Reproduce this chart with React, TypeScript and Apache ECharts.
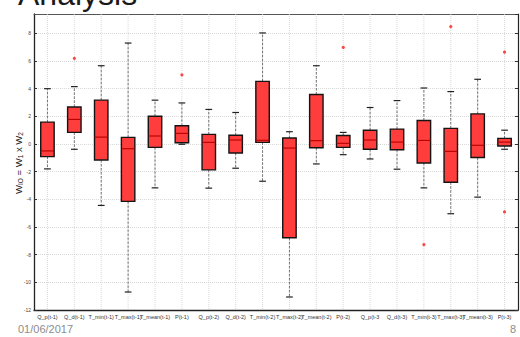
import React, { useEffect, useRef } from "react";
import * as echarts from "echarts";

const categories = [
  "Q_p(t-1)", "Q_d(t-1)", "T_min(t-1)", "T_max(t-1)", "T_mean(t-1)", "P(t-1)",
  "Q_p(t-2)", "Q_d(t-2)", "T_min(t-2)", "T_max(t-2)", "T_mean(t-2)", "P(t-2)",
  "Q_p(t-3", "Q_d(t-3)", "T_min(t-3)", "T_max(t-3)", "T_mean(t-3)", "P(t-3)",
];
// [lower whisker, q1, median, q3, upper whisker]
const whiskerLow = [-1.8, -0.38, -4.44, -10.7, -3.17, -0.02, -3.19, -1.75, -2.69, -11.06, -1.44, -0.77, -1.08, -1.82, -3.17, -5.04, -3.84, -0.38];
const q1 = [-0.91, 0.84, -1.15, -4.15, -0.24, 0.09, -1.87, -0.65, 0.12, -6.78, -0.27, -0.24, -0.38, -0.41, -1.37, -2.76, -0.98, -0.14];
const median = [-0.5, 1.78, 0.5, -0.34, 0.58, 0.77, 0.12, 0.29, 0.27, -0.29, 0.24, 0.05, 0.29, 0.14, 0.26, -0.53, -0.09, 0.14];
const q3 = [1.58, 2.68, 3.17, 0.48, 2.01, 1.32, 0.7, 0.63, 4.53, 0.43, 3.58, 0.62, 1.0, 1.08, 1.7, 1.13, 2.18, 0.41];
const whiskerHigh = [4.0, 4.15, 5.66, 7.3, 3.17, 2.97, 2.5, 2.28, 8.03, 0.89, 5.66, 0.84, 2.64, 3.14, 4.05, 3.79, 4.68, 1.0];
// outliers: [category index, value]
const outliers = [
  [1, 6.2], [5, 5.0], [11, 6.98], [14, -7.27], [15, 8.49], [17, 6.64], [17, -4.91],
];
const yMin = -12;
const yMax = 9.4;

export default function App() {
  const ref = useRef<HTMLDivElement>(null);
  useEffect(() => {
    if (!ref.current) return;
    const chart = echarts.init(ref.current, null, { renderer: "svg" });
    const boxData = categories.map((_, i) => [i, whiskerLow[i], q1[i], median[i], q3[i], whiskerHigh[i]]);
    const gridData = categories.map((_, i) => [i, 0]);
    const font = "Liberation Sans";
    chart.setOption({
      animation: false,
      backgroundColor: "#fff",
      grid: { left: 34, right: 2, top: 14, bottom: 27 },
      xAxis: [
        {
          type: "category",
          data: categories,
          boundaryGap: true,
          axisLine: { onZero: false, lineStyle: { color: "#222", width: 1.3 } },
          axisTick: { inside: true, alignWithLabel: true, length: 3, lineStyle: { color: "#333" } },
          axisLabel: { interval: 0, fontSize: 5.5, color: "#333", margin: 4, fontFamily: font },
          splitLine: { show: false },
        },
        {
          type: "category",
          data: categories,
          position: "top",
          boundaryGap: true,
          axisLine: { onZero: false, lineStyle: { color: "#555", width: 1 } },
          axisTick: { inside: true, alignWithLabel: true, length: 3, lineStyle: { color: "#555" } },
          axisLabel: { show: false },
          splitLine: { show: false },
        },
      ],
      yAxis: [
        {
          type: "value",
          min: yMin,
          max: yMax,
          interval: 2,
          axisLine: { show: true, onZero: false, lineStyle: { color: "#222", width: 1.3 } },
          axisTick: { show: true, inside: true, length: 3, lineStyle: { color: "#333" } },
          axisLabel: { fontSize: 5, color: "#444", margin: 3, showMaxLabel: false, fontFamily: font },
          splitLine: { show: true, lineStyle: { color: "#cfcfcf", width: 0.8, type: [1, 1] } },
        },
        {
          type: "value",
          min: yMin,
          max: yMax,
          interval: 2,
          position: "right",
          axisLine: { show: true, onZero: false, lineStyle: { color: "#222", width: 1.2 } },
          axisTick: { show: true, inside: true, length: 3, lineStyle: { color: "#333" } },
          axisLabel: { show: false },
          splitLine: { show: false },
        },
      ],
      series: [
        {
          type: "custom",
          z: 1,
          data: gridData,
          encode: { x: 0, y: 1 },
          renderItem: (params: any, api: any) => {
            const x = api.value(0);
            const p1 = api.coord([x, yMax]);
            const p2 = api.coord([x, yMin]);
            return {
              type: "line",
              shape: { x1: p1[0], y1: p1[1], x2: p2[0], y2: p2[1] },
              style: { stroke: "#cfcfcf", lineWidth: 0.8, lineDash: [1, 1] },
            };
          },
        },
        {
          type: "custom",
          z: 3,
          data: boxData,
          encode: { x: 0, y: [1, 2, 3, 4, 5] },
          renderItem: (params: any, api: any) => {
            const i = api.value(0);
            const band = api.size([1, 0])[0];
            const bw = band * 0.5;
            const cw = bw * 0.5;
            const pLo = api.coord([i, api.value(1)]);
            const pQ1 = api.coord([i, api.value(2)]);
            const pMed = api.coord([i, api.value(3)]);
            const pQ3 = api.coord([i, api.value(4)]);
            const pHi = api.coord([i, api.value(5)]);
            const cx = pMed[0];
            const dash = { stroke: "#555", lineWidth: 0.8, lineDash: [2.5, 1.5] };
            const cap = { stroke: "#222", lineWidth: 1.2 };
            return {
              type: "group",
              children: [
                { type: "line", shape: { x1: cx, y1: pQ3[1], x2: cx, y2: pHi[1] }, style: dash },
                { type: "line", shape: { x1: cx, y1: pQ1[1], x2: cx, y2: pLo[1] }, style: dash },
                { type: "line", shape: { x1: cx - cw / 2, y1: pHi[1], x2: cx + cw / 2, y2: pHi[1] }, style: cap },
                { type: "line", shape: { x1: cx - cw / 2, y1: pLo[1], x2: cx + cw / 2, y2: pLo[1] }, style: cap },
                {
                  type: "rect",
                  shape: { x: cx - bw / 2, y: pQ3[1], width: bw, height: pQ1[1] - pQ3[1] },
                  style: { fill: "#ff3d3d", stroke: "#141414", lineWidth: 1.4 },
                },
                {
                  type: "line",
                  shape: { x1: cx - bw / 2, y1: pMed[1], x2: cx + bw / 2, y2: pMed[1] },
                  style: { stroke: "#b30000", lineWidth: 1.1 },
                },
              ],
            };
          },
        },
        {
          type: "scatter",
          z: 4,
          data: outliers,
          symbol: "circle",
          symbolSize: 3.2,
          itemStyle: { color: "#ff1a1a" },
        },
      ],
      graphic: [
        {
          type: "text",
          left: 18,
          top: -22,
          style: { text: "Analysis", fontSize: 32, fontFamily: font, fill: "#1a1a1a" },
        },
        {
          type: "text",
          x: 18,
          y: 163,
          rotation: Math.PI / 2,
          style: {
            text: "W{sub|IO} = W{sub|1} x W{sub|2}",
            fontSize: 9.5,
            fontFamily: font,
            fill: "#222",
            align: "center",
            verticalAlign: "middle",
            rich: { sub: { fontSize: 6.5, fontFamily: font, fill: "#222", padding: [5, 0, 0, 0] } },
          },
        },
        {
          type: "text",
          left: 18,
          top: 323,
          style: { text: "01/06/2017", fontSize: 11, fontFamily: font, fill: "#8c8c8c" },
        },
        {
          type: "text",
          right: 4,
          top: 323,
          style: { text: "8", fontSize: 11, fontFamily: font, fill: "#8c8c8c" },
        },
      ],
    });
    return () => chart.dispose();
  }, []);
  return (
    <div
      ref={ref}
      style={{ position: "fixed", left: 0, top: 0, width: 520, height: 337 }}
    />
  );
}
